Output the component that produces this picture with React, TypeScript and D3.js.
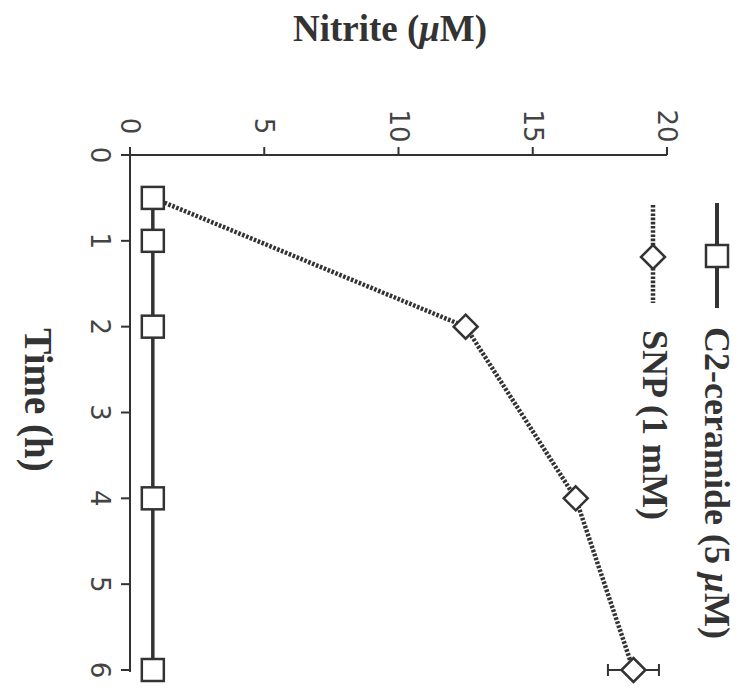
import React from "react";
import * as d3 from "d3";

const timeTicks = [0, 1, 2, 3, 4, 5, 6];
const nitriteTicks = [0, 5, 10, 15, 20];

const c2Time = [0.5, 1, 2, 4, 6];
const c2Nitrite = [0.85, 0.85, 0.85, 0.85, 0.85];

const snpTime = [0.5, 2, 4, 6];
const snpNitrite = [0.85, 12.5, 16.6, 18.75];
const snpErr = [0, 0, 0, 0.95];

const seriesNames = ["C2-ceramide (5 ", "SNP (1 mM)"];

const W = 742;
const H = 690;
const ink = "#333";
const serif = "'Liberation Serif', 'Times New Roman', serif";
const sans = "'DejaVu Sans', sans-serif";

export default function App() {
  const x = d3.scaleLinear().domain([0, 20]).range([130, 667]);
  const y = d3.scaleLinear().domain([0, 6]).range([155, 670]);

  const line = d3
    .line<[number, number]>()
    .x((d) => x(d[1]))
    .y((d) => y(d[0]));

  const c2Pts: [number, number][] = c2Time.map((t, i) => [t, c2Nitrite[i]]);
  const snpPts: [number, number][] = snpTime.map((t, i) => [t, snpNitrite[i]]);

  const sq = 22;
  const dia = 12;
  const diamond = (cx: number, cy: number) =>
    `M${cx},${cy - dia}L${cx + dia},${cy}L${cx},${cy + dia}L${cx - dia},${cy}Z`;

  return (
    <svg
      width={W}
      height={H}
      style={{ position: "absolute", left: 0, top: 0, background: "#fff" }}
    >
      <rect width={W} height={H} fill="#fff" />
      {/* Title */}
      <text
        x={390}
        y={41}
        textAnchor="middle"
        fontFamily={serif}
        fontWeight="bold"
        fontSize={37}
        fill={ink}
      >
        Nitrite (<tspan fontStyle="italic">μ</tspan>M)
      </text>
      <text
        transform={`translate(38,400) rotate(90)`}
        textAnchor="middle"
        dominantBaseline="central"
        fontFamily={serif}
        fontWeight="bold"
        fontSize={39}
        fill={ink}
      >
        Time (h)
      </text>

      {/* Axes */}
      <line x1={x(0) - 8} x2={x(20)} y1={y(0)} y2={y(0)} stroke={ink} strokeWidth={2} />
      <line x1={x(0)} x2={x(0)} y1={y(0) - 8} y2={y(6) + 2} stroke={ink} strokeWidth={2} />
      {nitriteTicks.map((v) => (
        <g key={"n" + v}>
          <line x1={x(v)} x2={x(v)} y1={y(0)} y2={y(0) - 8} stroke={ink} strokeWidth={2} />
          <text
            transform={`translate(${x(v)},${y(0) - 29}) rotate(90)`}
            textAnchor="middle"
            dominantBaseline="central"
            fontFamily={sans}
            fontSize={26}
            fill="#444"
          >
            {v}
          </text>
        </g>
      ))}
      {timeTicks.map((t) => (
        <g key={"t" + t}>
          <line x1={x(0)} x2={x(0) - 9} y1={y(t)} y2={y(t)} stroke={ink} strokeWidth={2} />
          <text
            transform={`translate(${x(0) - 30},${y(t)}) rotate(90)`}
            textAnchor="middle"
            dominantBaseline="central"
            fontFamily={sans}
            fontSize={26}
            fill="#444"
          >
            {t}
          </text>
        </g>
      ))}

      {/* Error bars */}
      {snpPts.map((d, i) =>
        snpErr[i] > 0 ? (
          <g key={"e" + i} stroke={ink} strokeWidth={2}>
            <line x1={x(d[1] - snpErr[i])} x2={x(d[1] + snpErr[i])} y1={y(d[0])} y2={y(d[0])} />
            <line x1={x(d[1] - snpErr[i])} x2={x(d[1] - snpErr[i])} y1={y(d[0]) - 6} y2={y(d[0]) + 6} />
            <line x1={x(d[1] + snpErr[i])} x2={x(d[1] + snpErr[i])} y1={y(d[0]) - 6} y2={y(d[0]) + 6} />
          </g>
        ) : null
      )}

      {/* Lines */}
      <path d={line(snpPts) || ""} fill="none" stroke={ink} strokeWidth={4.5} strokeDasharray="2.6 1.6" />
      <path d={line(c2Pts) || ""} fill="none" stroke={ink} strokeWidth={3.5} />

      {/* Markers */}
      {snpPts.slice(1).map((d, i) => (
        <path key={"d" + i} d={diamond(x(d[1]), y(d[0]))} fill="#fff" stroke={ink} strokeWidth={2.5} />
      ))}
      {c2Pts.map((d, i) => (
        <rect
          key={"s" + i}
          x={x(d[1]) - sq / 2}
          y={y(d[0]) - sq / 2}
          width={sq}
          height={sq}
          fill="#fff"
          stroke={ink}
          strokeWidth={2.5}
        />
      ))}

      {/* Legend */}
      <line x1={717} x2={717} y1={203} y2={308} stroke={ink} strokeWidth={4} />
      <rect x={717 - sq / 2} y={256 - sq / 2} width={sq} height={sq} fill="#fff" stroke={ink} strokeWidth={2.5} />
      <text
        transform={`translate(717,327) rotate(90)`}
        dominantBaseline="central"
        fontFamily={serif}
        fontWeight="bold"
        fontSize={36}
        fill={ink}
      >
        {seriesNames[0]}
        <tspan fontStyle="italic">μ</tspan>M)
      </text>
      <line x1={653} x2={653} y1={205} y2={303} stroke={ink} strokeWidth={4.5} strokeDasharray="2.6 1.6" />
      <path d={diamond(653, 257)} fill="#fff" stroke={ink} strokeWidth={2.5} />
      <text
        transform={`translate(655,330) rotate(90)`}
        dominantBaseline="central"
        fontFamily={serif}
        fontWeight="bold"
        fontSize={36}
        fill={ink}
      >
        {seriesNames[1]}
      </text>
    </svg>
  );
}
